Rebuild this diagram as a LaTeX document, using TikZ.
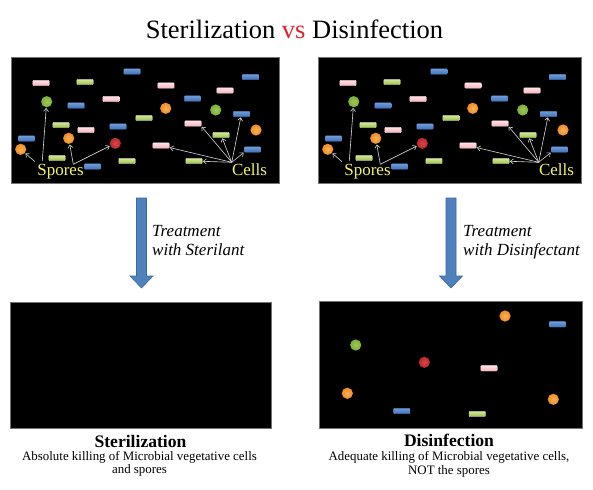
\documentclass[tikz,border=0pt]{standalone}
\usepackage{fontspec}
\setmainfont{Liberation Serif}
\usetikzlibrary{arrows.meta,shadings}
\definecolor{vsred}{HTML}{D9262B}
\definecolor{pinkT}{HTML}{FFE2E6}
\definecolor{pinkB}{HTML}{F7B2BC}
\definecolor{greenT}{HTML}{D6E8A4}
\definecolor{greenB}{HTML}{9CC046}
\definecolor{blueT}{HTML}{6F9DD8}
\definecolor{blueB}{HTML}{3E72BC}
\definecolor{orangeS}{HTML}{F08A22}
\definecolor{orangeL}{HTML}{FAB45A}
\definecolor{greenS}{HTML}{7FAE36}
\definecolor{greenL}{HTML}{9CC858}
\definecolor{redS}{HTML}{B8262A}
\definecolor{redL}{HTML}{D9484A}
\definecolor{labY}{HTML}{F4F46A}
\definecolor{arrowFill}{HTML}{4F81BD}
\definecolor{arrowEdge}{HTML}{3A68A0}
\definecolor{ptrCol}{HTML}{D8D8D8}
\newcommand\mytoppanel[1]{%
  % pink cells
  \node[pinkcell] (#1p1) at (41,83) {};
  \node[pinkcell] (#1p2) at (166,85.5) {};
  \node[pinkcell] (#1p3) at (111,99) {};
  \node[pinkcell] (#1p4) at (225,90.5) {};
  \node[pinkcell] (#1p5) at (86,130) {};
  \node[pinkcell] (#1p6) at (193,123.5) {};
  \node[pinkcell] (#1p7) at (161,145.5) {};
  % green cells
  \node[greencell] (#1g1) at (85,82) {};
  \node[greencell] (#1g2) at (61,125) {};
  \node[greencell] (#1g3) at (144,118) {};
  \node[greencell] (#1g4) at (57,158) {};
  \node[greencell] (#1g5) at (127,161) {};
  \node[greencell] (#1g6) at (194,161) {};
  \node[greencell] (#1g7) at (221,135) {};
  % blue cells
  \node[bluecell] (#1b1) at (132,71.5) {};
  \node[bluecell] (#1b2) at (76,105.5) {};
  \node[bluecell] (#1b3) at (26.5,138.5) {};
  \node[bluecell] (#1b4) at (118,126.5) {};
  \node[bluecell] (#1b5) at (92.5,166.5) {};
  \node[bluecell] (#1b6) at (192.5,98.5) {};
  \node[bluecell] (#1b7) at (250.5,77) {};
  \node[bluecell] (#1b8) at (241.5,114) {};
  \node[bluecell] (#1b9) at (252.5,149.5) {};
  % spores
  \node[gspore] (#1s1) at (46.7,101.7) {};
  \node[ospore] (#1s2) at (20.7,149.3) {};
  \node[ospore] (#1s3) at (68.7,138.3) {};
  \node[rspore] (#1s4) at (115.3,143.3) {};
  \node[ospore] (#1s5) at (165.7,108.3) {};
  \node[gspore] (#1s6) at (215.7,110) {};
  \node[ospore] (#1s7) at (256,130) {};
  % labels
  \node[lab] (#1spores) at (60.5,175.5) {Spores};
  \node[lab] (#1cells) at (249.5,175.5) {Cells};
  \coordinate (#1sa) at (35,161.7);
  \coordinate (#1sb) at (42.3,161);
  \coordinate (#1sc) at (73.3,164.3);
  \coordinate (#1ca) at (231.7,162.3);
  \draw[ptr] (#1sa) -- (#1s2);
  \draw[ptr] (#1sb) -- (#1s1);
  \draw[ptr] (#1sc) -- (#1s3);
  \draw[ptr] (#1sc) -- (#1s4);
  \draw[ptr] (#1ca) -- (#1p7);
  \draw[ptr] (#1ca) -- (#1g6);
  \draw[ptr] (#1ca) -- (#1p6.south east);
  \draw[ptr] (#1ca) -- (#1g7);
  \draw[ptr] (#1ca) -- (#1b8);
  \draw[ptr] (#1ca) -- (#1b9.south west);
}
\newcommand\mybigarrow[1]{%
  \draw[bigarrow] (#1-5,198) -- (#1+5,198) -- (#1+5,276) -- (#1+11.5,276)
    -- (#1,288) -- (#1-11.5,276) -- (#1-5,276) -- cycle;
}
\begin{document}
\begin{tikzpicture}[x=1pt,y=-1pt,
  panel/.style={rectangle, fill=black, draw=black!55, line width=0.5pt, inner sep=0pt},
  cellbase/.style={rectangle, minimum width=16.5pt, minimum height=5.4pt, inner sep=0pt, rounded corners=0.8pt, line width=0.3pt},
  pinkcell/.style={cellbase, top color=pinkT, bottom color=pinkB, draw=pinkT},
  greencell/.style={cellbase, top color=greenT, bottom color=greenB, draw=greenT!70!greenB},
  bluecell/.style={cellbase, top color=blueT, bottom color=blueB, draw=blueT!60!blueB},
  spore/.style={circle, minimum size=11.2pt, inner sep=0pt},
  ospore/.style={spore, inner color=orangeL, outer color=orangeS},
  gspore/.style={spore, inner color=greenL, outer color=greenS},
  rspore/.style={spore, inner color=redL, outer color=redS},
  lab/.style={text=labY, anchor=base, inner sep=0.5pt, font=\fontsize{17}{19}\selectfont},
  ptr/.style={draw=ptrCol, line width=0.6pt, -{Straight Barb[length=3pt,width=5pt]}, shorten >=0.5pt},
  bigarrow/.style={fill=arrowFill, draw=arrowEdge, line width=0.6pt},
  treat/.style={anchor=base west, inner sep=0pt, font=\fontsize{17}{19}\selectfont\itshape},
  head/.style={anchor=base, inner sep=0pt, font=\fontsize{17.6}{20}\selectfont\bfseries},
  body/.style={anchor=base, inner sep=0pt, font=\fontsize{12.9}{14}\selectfont}
]
\useasboundingbox[fill=white] (0,0) rectangle (593,489);
% title
\node[anchor=base, inner sep=0pt, font=\fontsize{26.5}{30}\selectfont] (title) at (294.5,38.5)
  {Sterilization \textcolor{vsred}{vs} Disinfection};
% panels
\node[panel, minimum width=268pt, minimum height=126pt] (TL) at (145,120) {};
\node[panel, minimum width=263pt, minimum height=126pt] (TR) at (449.5,120) {};
\node[panel, minimum width=261pt, minimum height=126pt] (BL) at (140.5,365) {};
\node[panel, minimum width=263pt, minimum height=127pt] (BR) at (450.5,364.5) {};
% top panel contents
\mytoppanel{L}
\begin{scope}[shift={(307,0)}]
\mytoppanel{R}
\end{scope}
% big arrows
\mybigarrow{141.5}
\mybigarrow{451}
\node[treat] (tl1) at (152,236) {Treatment};
\node[treat] (tl2) at (152,255) {with Sterilant};
\node[treat] (tr1) at (463,236) {Treatment};
\node[treat] (tr2) at (463,255) {with Disinfectant};
% bottom right contents
\node[ospore] (d1) at (505,316) {};
\node[bluecell] (d2) at (557.5,324.3) {};
\node[gspore] (d3) at (355.7,345) {};
\node[rspore] (d4) at (424.3,362.3) {};
\node[pinkcell] (d5) at (489,368.3) {};
\node[ospore] (d6) at (347.3,393.3) {};
\node[ospore] (d7) at (553.3,399.3) {};
\node[bluecell] (d8) at (401.7,411) {};
\node[greencell] (d9) at (477.3,414) {};
% captions
\node[head] (hs) at (140.5,447) {Sterilization};
\node[body] (bs1) at (139.5,460) {Absolute killing of Microbial vegetative cells};
\node[body] (bs2) at (139.5,473) {and spores};
\node[head] (hd) at (449,446) {Disinfection};
\node[body] (bd1) at (449,460) {Adequate killing of Microbial vegetative cells,};
\node[body] (bd2) at (449,474) {NOT the spores};
\end{tikzpicture}
\end{document}
